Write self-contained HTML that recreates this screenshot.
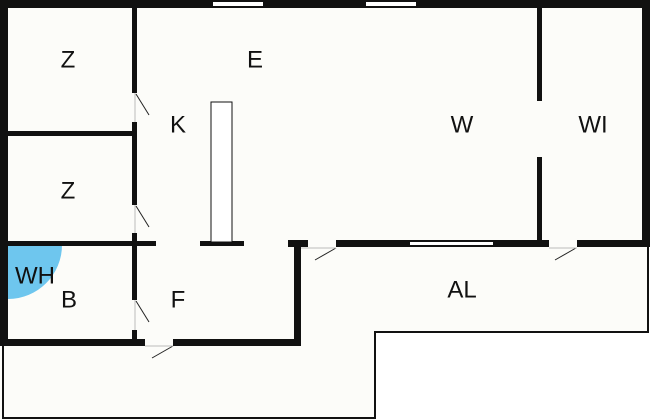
<!DOCTYPE html>
<html><head><style>body{margin:0;background:#fff}svg{display:block}text{font-family:"Liberation Sans",sans-serif;font-size:24px;fill:#111;text-anchor:middle;dominant-baseline:central}</style></head><body>
<svg width="650" height="420" viewBox="0 0 650 420">
<rect width="650" height="420" fill="#fff"/>
<path d="M0 0H650V245H648V332H375V420H0Z" fill="#fcfcf9"/>
<g fill="none" stroke="#111" stroke-width="2">
<path d="M3 345V418H375V332H648V245"/>
</g>
<path d="M8 245 H62 A54 54 0 0 1 8 299Z" fill="#6ec6ee"/>
<g fill="#111">
<rect x="0" y="0" width="650" height="8"/>
<rect x="0" y="0" width="8" height="345"/>
<rect x="642" y="0" width="8" height="245"/>
<rect x="132" y="8" width="5" height="85"/>
<rect x="132" y="122" width="5" height="83"/>
<rect x="132" y="233" width="5" height="67"/>
<rect x="132" y="330" width="5" height="15"/>
<rect x="8" y="131" width="127" height="5"/>
<rect x="8" y="241" width="148" height="5"/>
<rect x="200" y="241" width="44" height="5"/>
<rect x="288" y="240" width="20" height="7"/>
<rect x="294" y="243" width="7" height="102"/>
<rect x="0" y="339" width="145" height="7"/>
<rect x="173" y="339" width="128" height="7"/>
<rect x="336" y="240" width="213" height="7"/>
<rect x="577" y="240" width="73" height="7"/>
<rect x="537" y="8" width="5" height="93"/>
<rect x="537" y="157" width="5" height="88"/>
</g>
<g fill="#fff">
<rect x="213" y="2" width="50" height="4"/>
<rect x="366" y="2" width="50" height="4"/>
<rect x="410" y="242" width="83" height="3"/>
</g>
<rect x="211" y="102" width="21" height="140" fill="#fff" stroke="#111" stroke-width="1"/>
<g stroke="#222" stroke-width="1">
<line x1="136" y1="94" x2="149" y2="115"/>
<line x1="136" y1="206" x2="149" y2="227"/>
<line x1="136" y1="301" x2="149" y2="322"/>
<line x1="173" y1="346" x2="152" y2="358"/>
<line x1="336" y1="248" x2="315" y2="260"/>
<line x1="576" y1="248" x2="555" y2="260"/>
</g>
<g stroke="#bbb" stroke-width="1">
<line x1="301" y1="248" x2="336" y2="248"/>
<line x1="549" y1="248" x2="577" y2="248"/>
<line x1="145" y1="346" x2="173" y2="346"/>
<line x1="135" y1="93" x2="135" y2="122"/>
<line x1="135" y1="205" x2="135" y2="233"/>
<line x1="135" y1="300" x2="135" y2="330"/>
</g>
<text x="68" y="60">Z</text>
<text x="255" y="60">E</text>
<text x="178" y="125">K</text>
<text x="462" y="125">W</text>
<text x="593" y="125">WI</text>
<text x="68" y="191">Z</text>
<text x="35" y="276">WH</text>
<text x="69" y="300">B</text>
<text x="178" y="300">F</text>
<text x="462" y="290">AL</text>
</svg>
</body></html>
